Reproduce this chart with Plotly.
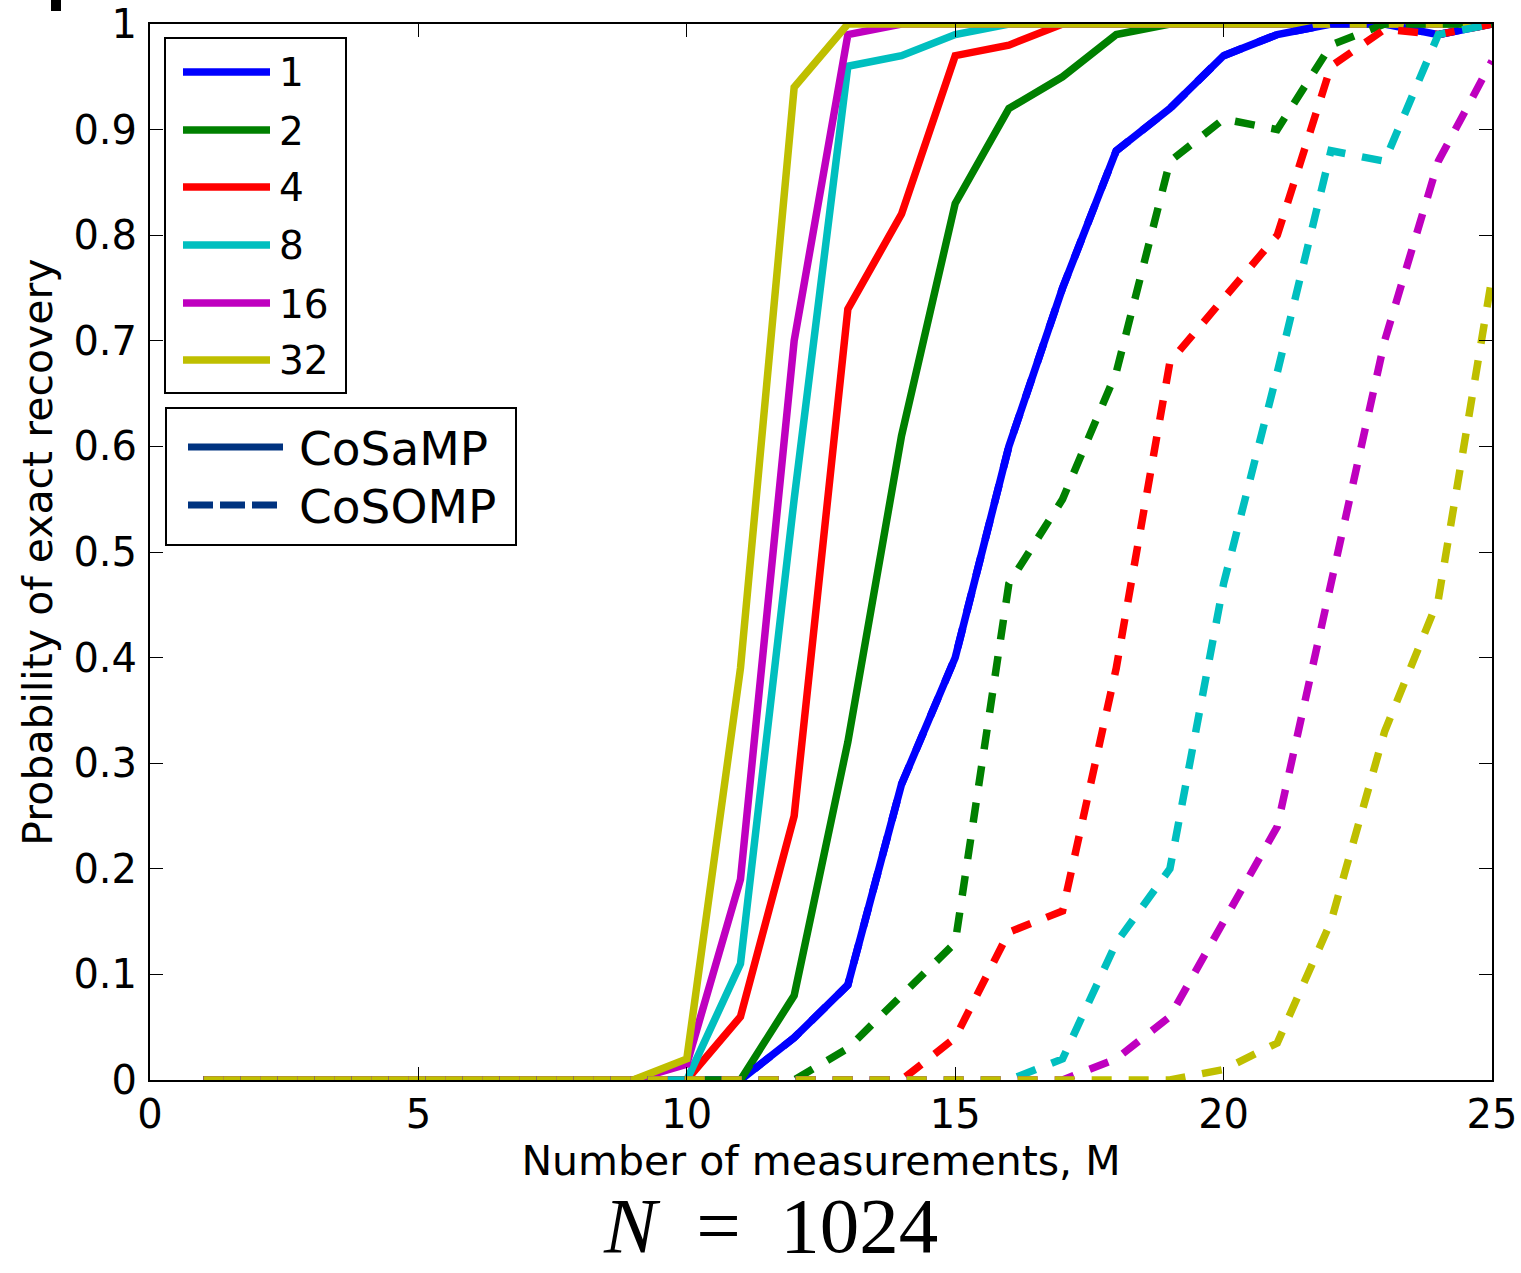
import plotly.graph_objects as go

# ---------------- data ----------------
M = [1, 2, 3, 4, 5, 6, 7, 8, 9, 10, 11, 12, 13, 14, 15, 16, 17, 18, 19, 20, 21, 22, 23, 24, 25]
K_LABELS = ["1", "2", "4", "8", "16", "32"]
COLORS = ["#0000ff", "#008000", "#ff0000", "#00bfbf", "#bf00bf", "#bfbf00"]

cosamp_k1 = [0, 0, 0, 0, 0, 0, 0, 0, 0, 0, 0, 0.04, 0.09, 0.28, 0.40, 0.60, 0.75, 0.88, 0.92, 0.97, 0.99, 1.0, 1.0, 0.99, 1.0]
cosamp_k2 = [0, 0, 0, 0, 0, 0, 0, 0, 0, 0, 0, 0.08, 0.32, 0.61, 0.83, 0.92, 0.95, 0.99, 1.0, 1.0, 1.0, 1.0, 1.0, 1.0, 1.0]
cosamp_k4 = [0, 0, 0, 0, 0, 0, 0, 0, 0, 0, 0.06, 0.25, 0.73, 0.82, 0.97, 0.98, 1.0, 1.0, 1.0, 1.0, 1.0, 1.0, 1.0, 1.0, 1.0]
cosamp_k8 = [0, 0, 0, 0, 0, 0, 0, 0, 0, 0, 0.11, 0.55, 0.96, 0.97, 0.99, 1.0, 1.0, 1.0, 1.0, 1.0, 1.0, 1.0, 1.0, 1.0, 1.0]
cosamp_k16 = [0, 0, 0, 0, 0, 0, 0, 0, 0, 0.015, 0.19, 0.70, 0.99, 1.0, 1.0, 1.0, 1.0, 1.0, 1.0, 1.0, 1.0, 1.0, 1.0, 1.0, 1.0]
cosamp_k32 = [0, 0, 0, 0, 0, 0, 0, 0, 0, 0.02, 0.39, 0.94, 1.0, 1.0, 1.0, 1.0, 1.0, 1.0, 1.0, 1.0, 1.0, 1.0, 1.0, 1.0, 1.0]

cosomp_k1 = [0, 0, 0, 0, 0, 0, 0, 0, 0, 0, 0, 0.04, 0.09, 0.28, 0.40, 0.60, 0.75, 0.88, 0.92, 0.97, 0.99, 1.0, 1.0, 0.99, 1.0]
cosomp_k2 = [0, 0, 0, 0, 0, 0, 0, 0, 0, 0, 0, 0, 0.03, 0.08, 0.13, 0.47, 0.55, 0.67, 0.87, 0.91, 0.90, 0.98, 1.0, 1.0, 1.0]
cosomp_k4 = [0, 0, 0, 0, 0, 0, 0, 0, 0, 0, 0, 0, 0, 0, 0.04, 0.14, 0.16, 0.39, 0.68, 0.74, 0.80, 0.96, 0.995, 0.99, 1.0]
cosomp_k8 = [0, 0, 0, 0, 0, 0, 0, 0, 0, 0, 0, 0, 0, 0, 0, 0, 0.02, 0.13, 0.20, 0.47, 0.67, 0.88, 0.87, 0.99, 1.0]
cosomp_k16 = [0, 0, 0, 0, 0, 0, 0, 0, 0, 0, 0, 0, 0, 0, 0, 0, 0, 0.02, 0.06, 0.15, 0.24, 0.47, 0.70, 0.87, 0.965]
cosomp_k32 = [0, 0, 0, 0, 0, 0, 0, 0, 0, 0, 0, 0, 0, 0, 0, 0, 0, 0, 0, 0.01, 0.035, 0.15, 0.33, 0.455, 0.76]

COSAMP = [cosamp_k1, cosamp_k2, cosamp_k4, cosamp_k8, cosamp_k16, cosamp_k32]
COSOMP = [cosomp_k1, cosomp_k2, cosomp_k4, cosomp_k8, cosomp_k16, cosomp_k32]
ALGOS = ["CoSaMP", "CoSOMP"]

X_TICKS = [0, 5, 10, 15, 20, 25]
Y_TICKS = [0, 0.1, 0.2, 0.3, 0.4, 0.5, 0.6, 0.7, 0.8, 0.9, 1]

# ---------------- layout constants ----------------
W, H = 1521, 1273
L, T = 150, 24
PW, PH = 1342, 1056
R = W - L - PW
B = H - T - PH
FONT = "DejaVu Sans"
LW = 7.5
DASH = "20px,17px"
NAVY = "#003380"


def px_x(px):
    """page pixel x -> paper coordinate"""
    return (px - L) / PW


def px_y(py):
    """page pixel y -> paper coordinate"""
    return (H - B - py) / PH


fig = go.Figure()

for k, ys, c in zip(K_LABELS, COSAMP, COLORS):
    fig.add_trace(go.Scatter(x=M, y=ys, mode="lines", name=f"CoSaMP K={k}",
                             line=dict(color=c, width=LW), showlegend=False))
for k, ys, c in zip(K_LABELS, COSOMP, COLORS):
    fig.add_trace(go.Scatter(x=M, y=ys, mode="lines", name=f"CoSOMP K={k}",
                             line=dict(color=c, width=LW, dash=DASH), showlegend=False))

shapes = []
annotations = []

# legend 1 (sparsity levels)
shapes.append(dict(type="rect", xref="paper", yref="paper",
                   x0=px_x(165), x1=px_x(346), y0=px_y(393), y1=px_y(38),
                   line=dict(color="black", width=2), fillcolor="white", layer="above"))
leg1_y = [72, 130, 187, 245, 303, 360]
for k, c, yy in zip(K_LABELS, COLORS, leg1_y):
    shapes.append(dict(type="line", xref="paper", yref="paper",
                       x0=px_x(183), x1=px_x(270), y0=px_y(yy), y1=px_y(yy),
                       line=dict(color=c, width=LW), layer="above"))
    annotations.append(dict(xref="paper", yref="paper", x=px_x(277), y=px_y(yy + 1),
                            text=k, showarrow=False, xanchor="left", yanchor="middle",
                            font=dict(family=FONT, size=39, color="black")))

# legend 2 (algorithms)
shapes.append(dict(type="rect", xref="paper", yref="paper",
                   x0=px_x(166), x1=px_x(516), y0=px_y(545), y1=px_y(408),
                   line=dict(color="black", width=2), fillcolor="white", layer="above"))
leg2_y = [447, 505]
for name, yy, dash in zip(ALGOS, leg2_y, ["solid", "25px,7px"]):
    shapes.append(dict(type="line", xref="paper", yref="paper",
                       x0=px_x(188), x1=px_x(283), y0=px_y(yy), y1=px_y(yy),
                       line=dict(color=NAVY, width=7, dash=dash), layer="above"))
    annotations.append(dict(xref="paper", yref="paper", x=px_x(297), y=px_y(yy + 1),
                            text=name, showarrow=False, xanchor="left", yanchor="middle",
                            font=dict(family=FONT, size=47, color="black")))

# N = 1024 caption
annotations.append(dict(xref="paper", yref="paper", x=px_x(770), y=px_y(1271),
                        text="<i>N</i>&nbsp;&nbsp;=&nbsp;&nbsp;1024", showarrow=False,
                        xanchor="center", yanchor="bottom",
                        font=dict(family="Liberation Serif", size=79, color="black")))

# small cropped mark at top-left
shapes.append(dict(type="rect", xref="paper", yref="paper",
                   x0=px_x(51), x1=px_x(61), y0=px_y(11), y1=px_y(0),
                   line=dict(width=0), fillcolor="black", layer="above"))

axis_common = dict(showline=True, linecolor="black", linewidth=2, mirror="ticks",
                   ticks="inside", ticklen=13, tickwidth=1.3, tickcolor="black",
                   showgrid=False, zeroline=False, automargin=False,
                   ticklabeloverflow="allow",
                   tickfont=dict(family=FONT, size=40, color="black"))

fig.update_layout(
    width=W, height=H,
    margin=dict(l=L, r=R, t=T, b=B, autoexpand=False),
    paper_bgcolor="white", plot_bgcolor="white",
    xaxis=dict(range=[0, 25], tickvals=X_TICKS, ticklabelstandoff=-2,
               title=dict(text="Number of measurements, M", standoff=2,
                          font=dict(family=FONT, size=41, color="black")),
               **axis_common),
    yaxis=dict(range=[0, 1], tickvals=Y_TICKS, ticklabelstandoff=3,
               title=dict(text="Probability of exact recovery", standoff=8,
                          font=dict(family=FONT, size=41, color="black")),
               **axis_common),
    shapes=shapes,
    annotations=annotations,
    showlegend=False,
)

# remove the default 8px page margin so the figure fills the window exactly
fig.write_html("out.html", config={"displayModeBar": False},
               post_script="document.body.style.margin='0px';")
